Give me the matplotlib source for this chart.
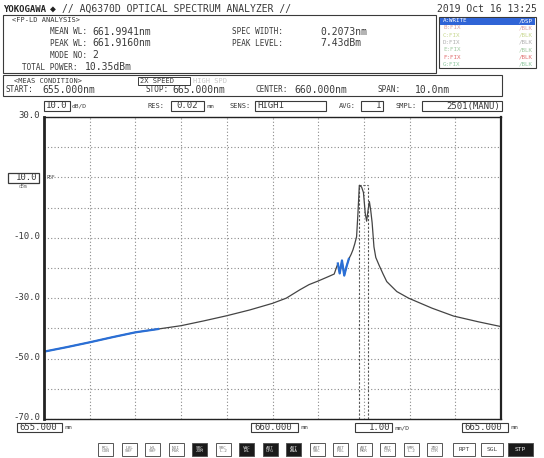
import numpy as np
import matplotlib.pyplot as plt
from matplotlib.patches import Rectangle

wl = [655.0, 655.5, 656.0, 656.5, 657.0, 657.5, 658.0, 658.5, 659.0, 659.5,
      660.0, 660.3, 660.6, 660.8, 661.0, 661.2, 661.35, 661.43, 661.47, 661.52,
      661.57, 661.62, 661.67, 661.72, 661.76, 661.8, 661.84, 661.87, 661.9, 661.95,
      661.99, 662.03, 662.06, 662.09, 662.12, 662.15, 662.18, 662.22, 662.26, 662.33,
      662.42, 662.5, 662.72, 662.98, 663.49, 663.96, 664.5, 665.0]
pwr = [-47.7, -46.2, -44.6, -42.9, -41.3, -40.2, -39.1, -37.5, -35.8, -33.9,
       -31.7, -30.0, -27.2, -25.5, -24.3, -23.0, -22.0, -18.5, -21.8, -17.5,
       -22.5, -19.5, -17.0, -15.5, -14.0, -12.0, -9.6, -1.8, 7.4, 6.8,
       5.0, -2.0, -4.5, -1.0, 2.0, -1.0, -5.0, -13.0, -16.5, -19.0,
       -22.0, -24.5, -27.8, -30.0, -33.3, -35.9, -37.8, -39.4]

# analysis results
mean_wl = 661.9941
peak_wl = 661.9160
spec_width = 0.2073
peak_level = 7.43
mode_no = 2
total_power = 10.35

start_wl, stop_wl = 655.0, 665.0
ref_level = 10.0
db_div = 10.0
ytick_vals = [30.0, -10.0, -30.0, -50.0, -70.0]

trace_rows = ['A:WRITE', 'B:FIX', 'C:FIX', 'D:FIX', 'E:FIX', 'F:FIX', 'G:FIX']
trace_disp = ['/DSP', '/BLK', '/BLK', '/BLK', '/BLK', '/BLK', '/BLK']
trace_cols = ['white', '#d9a0a0', '#c8d890', '#b0b0b0', '#a0c8a0', '#e07070', '#90c8a0']

btn_labels = ['RCL\nCON', 'LVL\nSHF', 'WL\nSHF', 'NOI\nMSK', 'SRC\nZOM', 'SRC\nL-2',
              'VAC\nWL', 'AUT\nCFG', 'AUT\nANA', 'AUT\nSRC', 'AUT\nPOL', 'AUT\nMKR',
              'AUT\nCTR', 'SMR\nL-2', 'ZRO\nCTR']
btn_dark = ['SRC\nZOM', 'VAC\nWL', 'AUT\nCFG', 'AUT\nANA']

wl = np.array(wl)
pwr = np.array(pwr)

FONT = 'DejaVu Sans Mono'
C = '#3a3a3a'
W, H = 544, 458

fig = plt.figure(figsize=(W / 100, H / 100), dpi=100)
fig.patch.set_facecolor('white')

# overlay in pixel coords for the screen chrome
ax0 = fig.add_axes([0, 0, 1, 1], zorder=0)
ax0.set_xlim(0, W)
ax0.set_ylim(H, 0)
ax0.axis('off')


def txt(x, y, s, size=5.5, color=C, ha='left', **kw):
    ax0.text(x, y, s, fontsize=size, family=FONT, color=color, ha=ha, va='center', **kw)


def box(x0, y0, x1, y1, ec=C, fc='none', lw=0.8):
    ax0.add_patch(Rectangle((x0, y0), x1 - x0, y1 - y0, ec=ec, fc=fc, lw=lw))


# header
txt(3, 9, 'YOKOGAWA', size=6.5, weight='bold', color='#222')
txt(50, 9, '\u25c6', size=7, color='#222')
txt(62, 9, '// AQ6370D OPTICAL SPECTRUM ANALYZER //', size=7)
txt(537, 9, '2019 Oct 16 13:25', size=7, ha='right')

box(3, 15, 436, 73)
txt(12, 20, '<FP-LD ANALYSIS>', size=5)
txt(50, 32, 'MEAN WL:', size=5.5)
txt(92, 32, '%.4fnm' % mean_wl, size=7)
txt(50, 43, 'PEAK WL:', size=5.5)
txt(92, 43, '%.4fnm' % peak_wl, size=7)
txt(50, 55, 'MODE NO:', size=5.5)
txt(92, 55, '%d' % mode_no, size=7)
txt(22, 67, 'TOTAL POWER:', size=5.5)
txt(85, 67, '%.2fdBm' % total_power, size=7)
txt(232, 32, 'SPEC WIDTH:', size=5.5)
txt(320, 32, '%.4fnm' % spec_width, size=7)
txt(232, 43, 'PEAK LEVEL:', size=5.5)
txt(320, 43, '%.2fdBm' % peak_level, size=7)

# trace list
box(439, 17, 536, 68)
row_h = 51 / 7
for i, name in enumerate(trace_rows):
    yy = 17 + row_h * (i + 0.5)
    if i == 0:
        ax0.add_patch(Rectangle((440, 17.5), 95, row_h, fc='#2f64d6', ec='none'))
    txt(443, yy, name, size=4.2, color=trace_cols[i])
    txt(533, yy, trace_disp[i], size=4.2, color=trace_cols[i], ha='right')

# measurement conditions
box(3, 75, 502, 96)
txt(14, 81, '<MEAS CONDITION>', size=5)
box(138, 77, 190, 85, lw=0.7)
txt(140, 81, '2X SPEED', size=5)
txt(193, 81, 'HIGH SPD', size=5, color='#c8c8c8')
txt(6, 90, 'START:', size=5.5)
txt(42, 90, '%.3fnm' % start_wl, size=7)
txt(145, 90, 'STOP:', size=5.5)
txt(172, 90, '%.3fnm' % stop_wl, size=7)
txt(256, 90, 'CENTER:', size=5.5)
txt(294, 90, '%.3fnm' % ((start_wl + stop_wl) / 2), size=7)
txt(378, 90, 'SPAN:', size=5.5)
txt(415, 90, '%.1fnm' % (stop_wl - start_wl), size=7)

# settings row above the grid
ys = 106
box(44, 101, 70, 111)
txt(46, ys, '%.1f' % db_div, size=6.5)
txt(72, ys, 'dB/D', size=4.5)
txt(148, ys, 'RES:', size=5)
box(171, 101, 204, 111)
txt(176, ys, '0.02', size=6.5)
txt(206, ys, 'nm', size=4.5)
txt(229, ys, 'SENS:', size=5)
box(255, 101, 326, 111)
txt(257, ys, 'HIGH1', size=6.5)
txt(339, ys, 'AVG:', size=5)
box(361, 101, 383, 111)
txt(381, ys, '1', size=6.5, ha='right')
txt(396, ys, 'SMPL:', size=5)
box(422, 101, 502, 111)
txt(500, ys, '2501(MANU)', size=6.5, ha='right')

# y labels
for v in ytick_vals:
    yy = 117 + (30 - v) / db_div * 30.2
    txt(40, yy - 1, '%.1f' % v, size=6.5, ha='right')
box(8, 173, 39, 183, lw=0.9)
txt(37, 178, '%.1f' % ref_level, size=6.5, ha='right')
txt(23, 187, 'dBm', size=3.5, ha='center', color='#777')

# bottom wavelength boxes
box(17, 423, 62, 432)
txt(19, 427.5, '%.3f' % start_wl, size=6.5)
txt(64, 427.5, 'nm', size=4.5)
box(251, 423, 298, 432)
txt(254, 427.5, '%.3f' % ((start_wl + stop_wl) / 2), size=6.5)
txt(300, 427.5, 'nm', size=4.5)
box(355, 423, 392, 432)
txt(390, 427.5, '%.2f' % ((stop_wl - start_wl) / 10), size=6.5, ha='right')
txt(394, 427.5, 'nm/D', size=4.5)
box(462, 423, 508, 432)
txt(464, 427.5, '%.3f' % stop_wl, size=6.5)
txt(510, 427.5, 'nm', size=4.5)

# soft keys
bx = 98
for lab in btn_labels:
    dark = lab in btn_dark
    box(bx, 443, bx + 15, 456, ec='#555', fc='#1a1a1a' if dark else 'white', lw=0.7)
    ax0.text(bx + 7.5, 449.5, lab, fontsize=3.2, family=FONT, ha='center', va='center',
             color='#ddd' if dark else '#777', linespacing=0.9)
    bx += 23.5
for lab, x0, x1 in [('RPT', 453, 475), ('SGL', 481, 503), ('STP', 508, 533)]:
    dark = lab == 'STP'
    box(x0, 443, x1, 456, ec='#555', fc='#1a1a1a' if dark else 'white', lw=0.7)
    txt((x0 + x1) / 2, 449.5, lab, size=4.5, ha='center', color='#eee' if dark else '#444')

# ---- spectrum area ----
ax = fig.add_axes([44 / W, (H - 419) / H, 457 / W, 302 / H], zorder=1)
ax.set_facecolor('white')
ax.set_xlim(start_wl, stop_wl)
ax.set_ylim(-70, 30)
ax.set_xticks(np.arange(start_wl, stop_wl + 0.01, 1.0))
ax.set_yticks(np.arange(-70, 30.01, db_div))
ax.tick_params(length=0, labelleft=False, labelbottom=False)
ax.grid(True, color='#8a8a8a', linestyle=(0, (1, 2)), linewidth=0.8)
for s in ax.spines.values():
    s.set_color('#222')
    s.set_linewidth(1.0)
ax.spines['left'].set_linewidth(2.0)
ax.spines['right'].set_linewidth(1.6)

# spectral width markers around the mean wavelength
lo = mean_wl - spec_width / 2
hi = mean_wl + spec_width / 2
for x in (lo, hi):
    ax.plot([x, x], [-70, peak_level], color='#555', lw=0.8, ls=(0, (2, 1.5)))
ax.plot([lo, hi], [peak_level, peak_level], color='#555', lw=0.8, ls=(0, (2, 1.5)))

ax.plot(wl, pwr, color='#444', lw=0.9)
blue = (wl <= 657.6) | ((wl >= 661.4) & (wl <= 661.67))
seg = np.where(blue, pwr, np.nan)
ax.plot(wl, seg, color='#2a6fd6', lw=1.6)

ax.text(655.05, ref_level, 'REF', fontsize=3.5, family=FONT, color='#555', va='center')

fig.savefig('out.png', dpi=100, facecolor='white')
